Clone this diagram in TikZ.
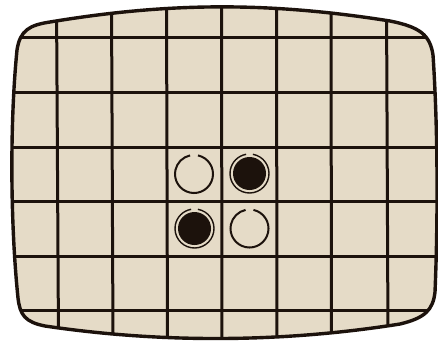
\documentclass[tikz,border=0pt]{standalone}
\definecolor{screenfill}{RGB}{229,219,199}
\definecolor{ink}{RGB}{28,18,12}
\tikzset{
  gridline/.style={ink, line width=3pt},
  frameline/.style={ink, line width=3.4pt, line join=round},
  openpiece/.style={ink, line width=2pt},
  ringline/.style={ink, line width=1.4pt},
}
\def\screenpath{(17,50) .. controls (20,30) and (30,25) .. (50,22)
  .. controls (170,2) and (270,2) .. (390,21)
  .. controls (420,27) and (430,35) .. (433,55)
  .. controls (438,130) and (438,220) .. (435,292)
  .. controls (433,310) and (425,318) .. (400,324)
  .. controls (280,343) and (160,343) .. (45,326)
  .. controls (25,322) and (20,315) .. (18,298)
  .. controls (10,220) and (10,120) .. (17,50) -- cycle}
\begin{document}
\begin{tikzpicture}[x=1pt,y=-1pt]
\useasboundingbox (0,0) rectangle (438,341);
\fill[white] (0,0) rectangle (438,341);
\fill[screenfill] \screenpath;
\begin{scope}
  \clip \screenpath;
  \foreach \x/\xb in {56.5/58.5,111.5/113,166.5/167.5,221.5/222,276.5/277,331/331.5,386.5/388}
    \draw[gridline] (\x,0) -- (\xb,341);
  \foreach \y in {37,92,147,201.5,256,310}
    \draw[gridline] (0,\y) -- (438,\y);
\end{scope}
\draw[frameline] \screenpath;
% open pieces
\foreach \cx/\cy in {194/174, 249.5/228.5}
  \draw[openpiece] (\cx,\cy) ++(-78:19) arc[start angle=-78, end angle=258, radius=19];
% black pieces
\foreach \cx/\cy in {249.5/173.5, 194.5/228.5}{
  \fill[ink] (\cx,\cy) circle[radius=16.5];
  \draw[ringline] (\cx,\cy) ++(-80:19.5) arc[start angle=-80, end angle=260, radius=19.5];
}
\end{tikzpicture}
\end{document}
